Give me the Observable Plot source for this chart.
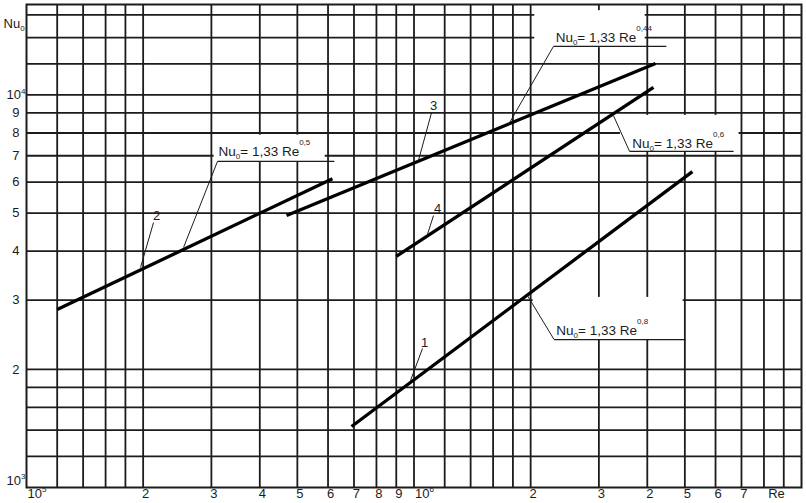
<!DOCTYPE html>
<html>
<head>
<meta charset="utf-8">
<script src="https://cdn.jsdelivr.net/npm/d3@7"></script>
<script src="https://cdn.jsdelivr.net/npm/@observablehq/plot@0.6"></script>
<style>
  html, body { margin: 0; padding: 0; background: #fff; }
</style>
</head>
<body>
<div id="chart"></div>
<script>
// ---- Curves (straight lines on log-log paper): endpoints
const curveIds = ["1", "2", "3", "4"];
const reStart = [6.9e5, 1.2e5, 4.69e5, 9.0e5];
const nuStart = [1430, 2840, 4930, 3880];
const reEnd   = [5.23e6, 6.16e5, 4.2e6, 4.15e6];
const nuEnd   = [6380, 6120, 12030, 10450];

// ---- Curve number labels and their leader lines
const numLabels = ["1", "2", "3", "4"];
const numRe = [1.065e6, 2.165e5, 1.123e6, 1.15e6];
const numNu = [2340, 4930, 9400, 5140];
const numLeadRe1 = [1.052e6, 2.127e5, 1.11e6, 1.123e6];
const numLeadNu1 = [2260, 4730, 9020, 4930];
const numLeadRe2 = [9.79e5, 1.969e5, 1.027e6, 1.083e6];
const numLeadNu2 = [1870, 3635, 6810, 4410];

// ---- Formula labels
const formulaExp = ["0,8", "0,5", "0,44", "0,6"];
const formulaRe = [2.33e6, 3.13e5, 2.32e6, 3.66e6];
const formulaNu = [2510, 7180, 14010, 7520];
// leader: from curve point to the start of the underline
const fLeadRe1 = [1.963e6, 2.543e5, 1.754e6, 3.27e6];
const fLeadNu1 = [3080, 4089, 8410, 8870];
const fLeadRe2 = [2.30e6, 3.11e5, 2.29e6, 3.60e6];
const fLeadNu2 = [2380, 6770, 13290, 7180];
// underline end
const fLineReEnd = [5.02e6, 6.23e5, 4.48e6, 6.68e6];
// white label boxes
const boxRe1 = [2.03e6, 3.05e5, 2.05e6, 3.41e6];
const boxRe2 = [4.95e6, 5.9e5, 3.95e6, 6.9e6];
const boxNu1 = [2370, 6750, 13200, 7180];
const boxNu2 = [3050, 7900, 16400, 8870];

// ---- Grid and ticks
const gridRe = [1.2e5, 1.4e5, 1.6e5, 1.8e5, 2e5, 3e5, 4e5, 5e5, 6e5, 7e5, 8e5, 9e5,
                1e6, 1.2e6, 1.4e6, 1.6e6, 1.8e6, 2e6, 3e6, 4e6, 5e6, 6e6, 7e6, 8e6, 9e6];
const gridNu = [1200, 1400, 1600, 1800, 2000, 3000, 4000, 5000, 6000, 7000, 8000, 9000,
                10000, 12000, 14000, 16000];
const xDigitTicks = [2e5, 3e5, 4e5, 5e5, 6e5, 7e5, 8e5, 9e5, 2e6, 3e6, 4e6, 5e6, 6e6, 7e6];
const xDigitLabels = ["2", "3", "4", "5", "6", "7", "8", "9", "2", "3", "2", "5", "6", "7"];
const xPowerTicks = [1e5, 1e6];
const xPowerLabels = ["10^{5}", "10^{6}"];
const yDigitTicks = [2000, 3000, 4000, 5000, 6000, 7000, 8000, 9000];
const yDigitLabels = ["2", "3", "4", "5", "6", "7", "8", "9"];
const yLowTick = [1000], yLowLabel = ["10^{3}"];
const yHighTick = [10000], yHighLabel = ["10^{4}"];

const ink = "#1c1c1c";

const plot = Plot.plot({
  width: 806,
  height: 503,
  marginLeft: 26,
  marginRight: 5,
  marginTop: 4,
  marginBottom: 16,
  style: {fontFamily: "'Liberation Sans', Arial, sans-serif", fontSize: "13px", background: "#fff", color: ink},
  x: {type: "log", domain: [1e5, 1e7], axis: null},
  y: {type: "log", domain: [1000, 17000], axis: null},
  marks: [
    Plot.ruleX(gridRe, {stroke: ink, strokeWidth: 1.8}),
    Plot.ruleY(gridNu, {stroke: ink, strokeWidth: 1.8}),
    Plot.frame({stroke: ink, strokeWidth: 2}),
    Plot.rect(formulaExp, {x1: boxRe1, x2: boxRe2, y1: boxNu1, y2: boxNu2, fill: "#fff"}),
    Plot.link(curveIds, {x1: reStart, y1: nuStart, x2: reEnd, y2: nuEnd, stroke: "#000", strokeWidth: 3.3}),
    Plot.link(numLabels, {x1: numLeadRe1, y1: numLeadNu1, x2: numLeadRe2, y2: numLeadNu2, stroke: ink, strokeWidth: 1}),
    Plot.link(formulaExp, {x1: fLeadRe1, y1: fLeadNu1, x2: fLeadRe2, y2: fLeadNu2, stroke: ink, strokeWidth: 1}),
    Plot.link(formulaExp, {x1: fLeadRe2, y1: fLeadNu2, x2: fLineReEnd, y2: fLeadNu2, stroke: ink, strokeWidth: 1.2}),
    Plot.text(numLabels, {x: numRe, y: numNu, text: numLabels, fill: ink, fontSize: 13}),
    Plot.text(formulaExp, {x: formulaRe, y: formulaNu, text: formulaExp.map(e => `Nu_{0}= 1,33 Re^{${e}}`),
      textAnchor: "start", fill: ink, fontSize: 13.5}),
    // axis labels
    Plot.text(xDigitLabels, {x: xDigitTicks, text: xDigitLabels, frameAnchor: "bottom", dy: 10, dx: 2.5, fill: ink, fontSize: 13}),
    Plot.text(xPowerLabels, {x: xPowerTicks, text: xPowerLabels, frameAnchor: "bottom", dy: 10, dx: 1, textAnchor: "start", fill: ink, fontSize: 13}),
    Plot.text(yDigitLabels, {y: yDigitTicks, text: yDigitLabels, frameAnchor: "left", dx: -7, textAnchor: "end", fill: ink, fontSize: 13}),
    Plot.text(yHighLabel, {y: yHighTick, text: yHighLabel, frameAnchor: "left", dx: -1, textAnchor: "end", fill: ink, fontSize: 13}),
    Plot.text(yLowLabel, {y: yLowTick, text: yLowLabel, frameAnchor: "left", dx: -1, dy: -7, textAnchor: "end", fill: ink, fontSize: 13}),
    Plot.text(["Re"], {text: ["Re"], frameAnchor: "bottom-right", dx: -25, dy: 10, textAnchor: "middle", fill: ink, fontSize: 13}),
    Plot.text(["Nu_{0}"], {text: ["Nu_{0}"], frameAnchor: "top-left", dx: -23, dy: 14, textAnchor: "start", fill: ink, fontSize: 13})
  ]
});

// Turn ^{..} and _{..} markup into real superscript / subscript tspans
d3.select(plot).selectAll("text").each(function () {
  const el = this;
  const s = el.textContent;
  if (!/[\^_]\{/.test(s)) return;
  const isFormula = s.indexOf("Re^{") >= 0;
  const supShift = isFormula ? -11 : -5.5;
  const subShift = 3;
  const parts = [];
  const re = /([\^_])\{([^}]*)\}/g;
  let last = 0, m;
  while ((m = re.exec(s))) {
    if (m.index > last) parts.push({t: s.slice(last, m.index), k: ""});
    parts.push({t: m[2], k: m[1]});
    last = re.lastIndex;
  }
  if (last < s.length) parts.push({t: s.slice(last), k: ""});
  el.textContent = "";
  let cur = 0;
  for (const p of parts) {
    const ts = document.createElementNS("http://www.w3.org/2000/svg", "tspan");
    const target = p.k === "^" ? supShift : p.k === "_" ? subShift : 0;
    if (target !== cur) ts.setAttribute("dy", target - cur);
    cur = target;
    if (p.k) ts.setAttribute("font-size", 8);
    ts.textContent = p.t;
    el.appendChild(ts);
  }
});

document.getElementById("chart").appendChild(plot);
</script>
</body>
</html>
